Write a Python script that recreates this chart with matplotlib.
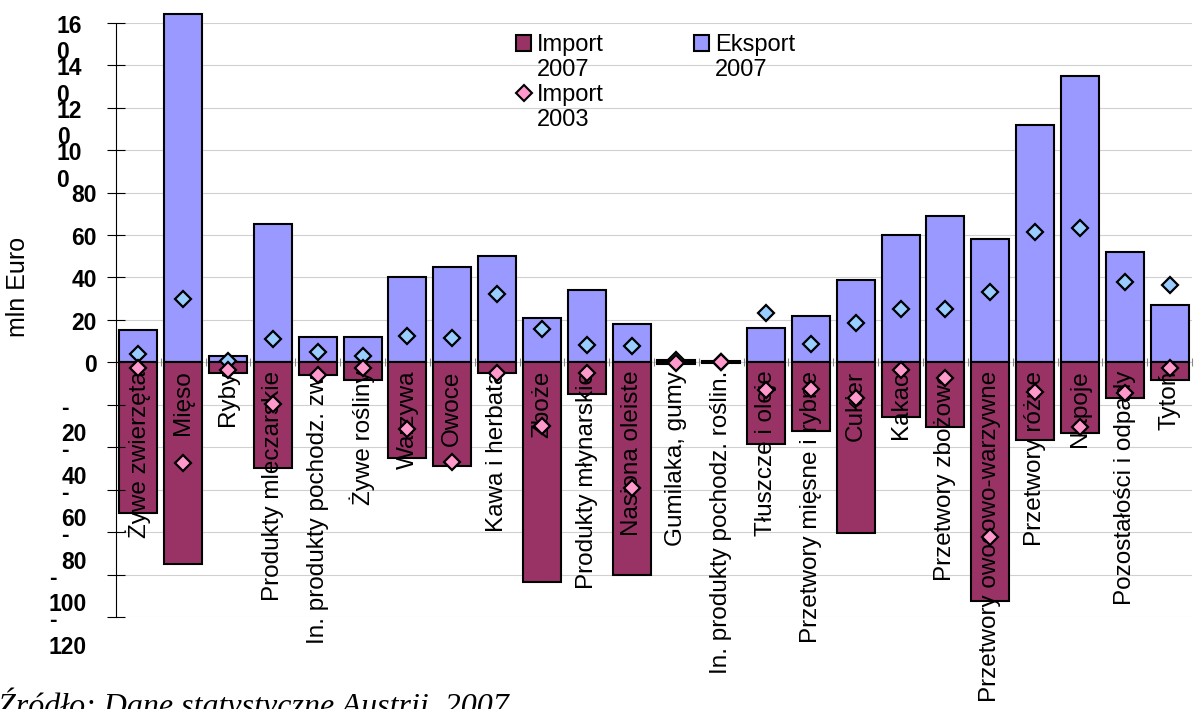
import numpy as np
import matplotlib.pyplot as plt
from matplotlib.patches import Patch
from matplotlib.lines import Line2D

plt.rcParams['font.family'] = ['Liberation Sans', 'DejaVu Sans']

categories = ['Żywe zwierzęta', 'Mięso', 'Ryby', 'Produkty mleczarskie',
              'In. produkty pochodz. zw.', 'Żywe rośliny', 'Warzywa', 'Owoce',
              'Kawa i herbata', 'Zboże', 'Produkty młynarskie', 'Nasiona oleiste',
              'Gumilaka, gumy', 'In. produkty pochodz. roślin.', 'Tłuszcze i oleje',
              'Przetwory mięsne i rybne', 'Cukier', 'Kakao', 'Przetwory zbożowe',
              'Przetwory owocowo-warzywne', 'Przetwory różne', 'Napoje',
              'Pozostałości i odpady', 'Tytoń']

# mln Euro
eksport_2007 = [15, 164, 3, 65, 12, 12, 40, 45, 50, 21, 34, 18,
                1, 0.5, 16, 22, 39, 60, 69, 58, 112, 135, 52, 27]
import_2007 = [-71, -95, -5, -50, -6, -8.5, -45, -49, -5, -103.5, -15, -100,
               -1, -0.5, -38.5, -32.5, -80.5, -26, -30.5, -112.5, -36.5, -33.5, -17, -8.5]
eksport_2003 = [4, 30, 0.5, 11, 5, 3, 12.5, 11.5, 32, 15.5, 8, 7.5,
                1, 0.3, 23, 8.5, 18.5, 25, 25, 33, 61.5, 63.5, 38, 36.5]
import_2003 = [-2.5, -47.5, -3.5, -19.5, -6, -2.5, -31.5, -47, -5, -30, -5, -59,
               -0.5, 0, -13, -12.5, -17, -3.5, -7.5, -82.5, -14, -30.5, -14.5, -2.5]

yticks = [-120, -100, -80, -60, -40, -20, 0, 20, 40, 60, 80, 100, 120, 140, 160]
ytick_labels = ['-\n120', '-\n100', '-\n80', '-\n60', '-\n40', '-\n20', '0', '20',
                '40', '60', '80', '10\n0', '12\n0', '14\n0', '16\n0']

fig = plt.figure(figsize=(11.96, 7.09), dpi=100)
ax = fig.add_axes([116 / 1196, 1 - 617 / 709, (1192 - 116) / 1196, (617 - 22.7) / 709])

x = np.arange(len(categories))
w = 0.85
ax.bar(x, eksport_2007, w, color='#9999FF', edgecolor='black', linewidth=1.5,
       clip_on=False, zorder=1, label='Eksport\n2007')
ax.bar(x, import_2007, w, color='#993366', edgecolor='black', linewidth=1.5,
       zorder=1, label='Import\n2007')
ax.plot(x, eksport_2003, 'D', ms=8.5, mfc='#99CCFF', mec='black', mew=1.6, zorder=4)
ax.plot(x, import_2003, 'D', ms=8.5, mfc='#FF99CC', mec='black', mew=1.6, zorder=4)

ax.set_xlim(-0.5, len(categories) - 0.5)
ax.set_ylim(-120, 160)

# light grid behind the bars
ax.hlines(yticks, -0.5, len(categories) - 0.5, colors='#d0d0d0', linewidth=0.8, zorder=0)

# y axis, labels wrapped like in the original
ax.set_yticks(yticks)
ax.tick_params(axis='y', direction='inout', length=13, width=0.8, labelleft=False)
for v, lab in zip(yticks, ytick_labels):
    dx = -19 if '\n' not in lab else (-29 if v < 0 else -34)
    ax.annotate(lab, xy=(0, v), xycoords=('axes fraction', 'data'),
                xytext=(dx, 8), textcoords='offset pixels',
                ha='right', va='top', multialignment='left',
                fontsize=16.5, fontweight='bold', linespacing=1.2)

# x axis at zero
ax.spines['bottom'].set_position(('data', 0))
ax.spines['bottom'].set_color('none')
ax.spines['top'].set_visible(False)
ax.spines['right'].set_visible(False)
ax.spines['left'].set_linewidth(0.8)
ax.set_xticks(np.arange(len(categories) + 1) - 0.5)
ax.set_xticklabels([])
ax.tick_params(axis='x', which='major', direction='inout', length=6, color='#888888')
ax.set_xticks(x, categories, minor=True, rotation=90, fontsize=17.5)
ax.tick_params(axis='x', which='minor', length=0, pad=6)

fig.text(18 / 1196, 1 - 287 / 709, 'mln Euro', rotation=90, ha='center', va='center',
         fontsize=18)

handles = [
    Patch(facecolor='#993366', edgecolor='black', linewidth=1.5),
    Line2D([], [], linestyle='none'),
    Line2D([], [], linestyle='none', marker='D', ms=8, mfc='#FF99CC', mec='black', mew=1.5),
    Line2D([], [], linestyle='none'),
    Patch(facecolor='#9999FF', edgecolor='black', linewidth=1.5),
    Line2D([], [], linestyle='none'),
    Line2D([], [], linestyle='none'),
    Line2D([], [], linestyle='none'),
]
labels = ['Import', '2007', 'Import', '2003', 'Eksport', '2007', '', '']
fig.legend(handles, labels, loc='upper left', bbox_to_anchor=(516 / 1196, 1 - 34 / 709),
           ncol=2, frameon=False, fontsize=17, handlelength=0.65, handleheight=0.65,
           handletextpad=0.25, labelspacing=0.12, columnspacing=3.8,
           borderpad=0, borderaxespad=0)

fig.text(-0.002, -0.008, 'Źródło: Dane statystyczne Austrii, 2007', family='Liberation Serif',
         style='italic', fontsize=23, ha='left', va='baseline')

fig.savefig('out.png', dpi=100)
